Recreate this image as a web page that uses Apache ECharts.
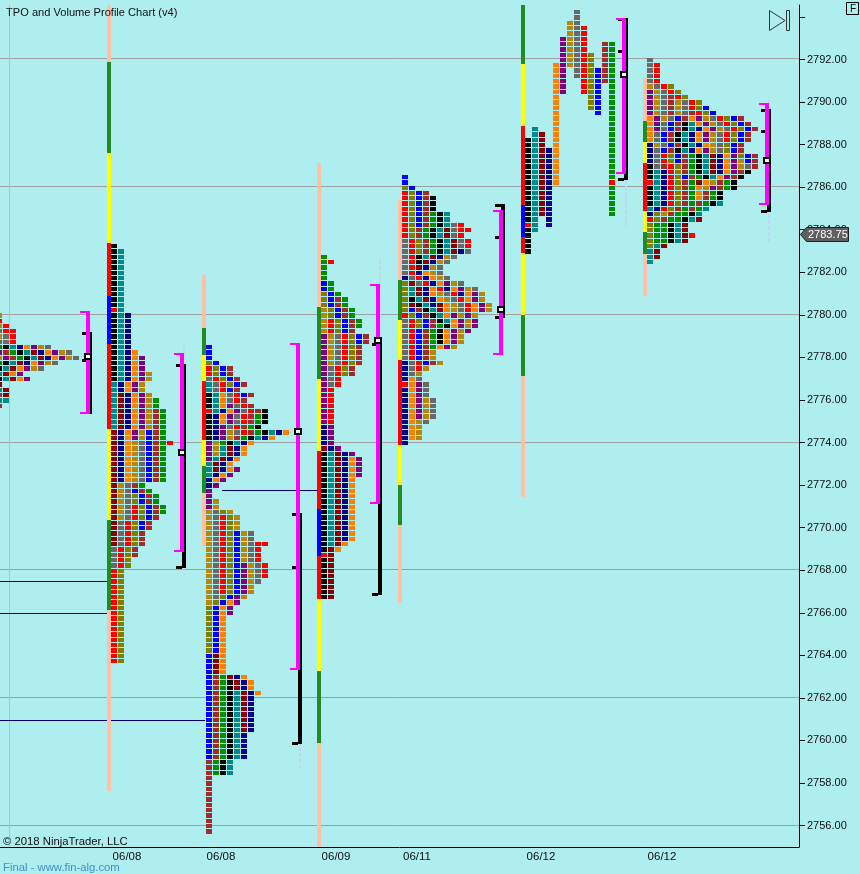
<!DOCTYPE html>
<html><head><meta charset="utf-8">
<style>html,body{margin:0;padding:0;background:#AFEEEE}#c{width:860px;height:874px}</style>
<script src="https://cdn.jsdelivr.net/npm/echarts@6/dist/echarts.min.js"></script>
</head><body><div id="c"></div>
<script>
// ---- axis values
const yTicks=[2756,2758,2760,2762,2764,2766,2768,2770,2772,2774,2776,2778,2780,2782,2784,2786,2788,2790,2792,2794];
const yLabels=[2756,2758,2760,2762,2764,2766,2768,2770,2772,2774,2776,2778,2780,2782,2784,2786,2788,2790,2792];
const gridLevels=[2792,2786,2780,2774,2768,2762,2756];
const dateLabels=['06/08','06/08','06/09','06/11','06/12','06/12'];
const dateSlots=[127,221,336,417,541,662];
const lastPrice=2783.75;

// ---- TPO rows: [number of rows, one letter per period], read top to bottom
const profile1Top=2780;
const profile1Rows=[[1,'d'],[1,'r'],[1,'dr'],[1,'yrr'],[1,'dyr'],[1,'yyr'],[1,'gktnopdy'],[1,'pwgktmnopdy'],[1,'dpwgktmnopdy'],[1,'gktmnopdy'],[1,'ktmopdy'],[1,'tmop'],[1,'ktmop'],[1,'m'],[1,'tm'],[1,'wm'],[1,'tt'],[1,'w']];
const profile2Top=2783.25;
const profile2Rows=[[1,'k'],[11,'kt'],[1,'rt'],[7,'ktn'],[1,'ktno'],[3,'ktnop'],[2,'ktnopd'],[2,'tnopd'],[1,'tmnopd'],[2,'tmnopdg'],[4,'tmnopdwg'],[2,'mnopdbwg'],[1,'mnodybwgr'],[7,'mnodybwg'],[1,'mdywg'],[1,'mdybwg'],[2,'mdylbwg'],[2,'mdyrlbwg'],[1,'mdyrlbw'],[2,'myrlbw'],[3,'myrlw'],[2,'yrlw'],[2,'yrl'],[18,'rl']];
const profile3Top=2778.5;
const profile3Rows=[[3,'b'],[1,'lb'],[2,'rlbw'],[1,'yrlbw'],[1,'tyrlbw'],[1,'tyrbw'],[1,'ktoyrbw'],[1,'ktoyrw'],[1,'ktopyrw'],[1,'rtnopyrwk'],[2,'knopyrwgk'],[1,'knpyrwgk'],[1,'knpdyrwgktno'],[1,'knpdwgktno'],[1,'pdgktno'],[2,'pdtmno'],[1,'ptmno'],[1,'tmno'],[1,'tmnop'],[1,'tnop'],[1,'nop'],[1,'np'],[2,'p'],[2,'pd'],[1,'dyld'],[3,'dyrld'],[2,'dyrlbdy'],[1,'dyrlbdyrr'],[3,'dyrlbdyr'],[3,'dyrlbpdyr'],[1,'dyrlbpdy'],[2,'dyrlbpd'],[1,'dylbpd'],[1,'dlbop'],[2,'lbop'],[7,'lbo'],[4,'bmo'],[1,'bwgmno'],[2,'bwgkmno'],[1,'bwgktmno'],[7,'bwgktmn'],[5,'bwgktn'],[3,'wgkt'],[11,'w']];
const profile4Top=2782.75;
const profile4Rows=[[1,'g'],[1,'gr'],[3,'g'],[2,'bg'],[1,'lbg'],[2,'lbwg'],[2,'dlbwg'],[2,'drlbwg'],[1,'drlbw'],[2,'pdyrlbw'],[4,'pdyrlw'],[2,'pyrlw'],[2,'pyr'],[7,'pr'],[4,'np'],[1,'mnp'],[1,'ktmnp'],[4,'ktmnop'],[12,'ktmno'],[1,'ktmo'],[1,'kmo'],[1,'rm'],[8,'km']];
const profile5Top=2786.5;
const profile5Rows=[[2,'b'],[1,'lb'],[1,'rlbw'],[3,'rlbwk'],[2,'rlbwgkt'],[1,'rlbwgktyr'],[1,'rlwgktmyrr'],[1,'rlwgktmyr'],[2,'yrlwgktmyr'],[1,'yrlwgktmny'],[1,'yrktmndy'],[1,'yrkmndy'],[1,'yrmndy'],[1,'yrnody'],[1,'nyrnody'],[1,'lmyrnopdy'],[1,'ltmnornopdy'],[1,'ltmnodyrnopd'],[1,'lktmnodyropd'],[1,'lmktnmodyropd'],[1,'lbwktmodyropd'],[1,'rlbwktopdpd'],[1,'yrlbwktopdp'],[1,'yrlbwgkopdp'],[1,'yrbwgkopdp'],[2,'yrbwgkopd'],[1,'yrbwgopd'],[2,'yrbwd'],[1,'nyrbwd'],[1,'nyrd'],[1,'nyd'],[1,'noy'],[1,'ropy'],[2,'nopy'],[4,'nopdy'],[1,'nody'],[3,'nod'],[1,'n']];
// profile 6 keeps every period in its own column: [column, letter, top price, rows]
const profile6Runs=[[7,'y',2794.25,13],[6,'d',2793.75,9],[8,'r',2793.5,13],[5,'p',2793,11],[4,'o',2791.75,23],[9,'l',2792.25,11],[10,'b',2791.5,9],[11,'w',2792.75,8],[12,'g',2792.75,33],[12,'r',2786.25,1],[1,'t',2788.75,20],[2,'m',2788.5,16],[3,'n',2787.75,15],[0,'k',2788.25,22],[0,'r',2784.25,1]];
const profile7Top=2792;
const profile7Rows=[[1,'y'],[4,'yr'],[1,'dyrl'],[1,'pdyrl'],[1,'pdywrl'],[1,'pdywdyrl'],[1,'pdywdyrlb'],[1,'pdywdywrlb'],[1,'opdybwopdyrlbw'],[1,'opybwktopdyrlbw'],[1,'opybwktnopdyrlbw'],[2,'oybwktnopdyrlbw'],[1,'ndybwktnodylbw'],[1,'nybwktnopdylbw'],[1,'nyrlbwgktmnoplbw'],[1,'nyrlbwgktmnopdbw'],[1,'kywrlwgktmnopdyw'],[1,'ktnrlwgktmnopwk'],[1,'ktnrlbwgktopwk'],[1,'rtnrlwgmodwgk'],[1,'ktnrlwgodpwgk'],[2,'ktnrlwgowgk'],[1,'ktnrlwgwgkt'],[1,'tnrlwgwgt'],[1,'nldwggkt'],[1,'rlwggktm'],[2,'lggktm'],[1,'lggktmr'],[1,'lggktm'],[1,'ltm'],[2,'tm'],[1,'t']];
const profileSlots=[-4,111,206,321,402,525,647];

// ---- period strips: [letter, rows]
const strip2Top=2794.5;
const strip2=[['a',11],['f',17],['Y',17],['r',10],['b',9],['r',16],['Y',17],['f',17],['a',34]];
const strip3Top=2781.75;
const strip3=[['a',10],['f',5],['Y',5],['r',11],['Y',5],['f',5],['a',10]];
const strip4Top=2787;
const strip4=[['a',27],['f',13.5],['Y',13.5],['r',11],['b',8.75],['r',8.25],['Y',13.5],['f',13.5],['a',20]];
const strip5Top=2785.25;
const strip5=[['a',15],['f',7.5],['Y',7.5],['r',16],['Y',7.5],['f',7.5],['a',14.7]];
const strip6Top=2794.5;
const strip6=[['f',11.35],['Y',11.65],['r',14.85],['b',6],['r',3],['Y',11.65],['f',11.5],['a',22.75]];
const strip7Top=2791;
const strip7=[['a',8],['f',4],['Y',4],['r',9],['Y',4],['f',4],['a',8]];

// ---- session brackets
const bracketSlots=[86,180,296,376,499,622,765];
const valueHigh=[2780.18,2778.21,2778.68,2781.45,2784.93,2793.95,2789.96];
const valueLow=[2775.34,2768.86,2763.33,2771.11,2778.11,2786.62,2785.16];
const sessionHigh=[2779.19,2777.69,2770.69,2778.63,2785.21,2793.95,2789.67];
const sessionLow=[2775.34,2768.10,2759.83,2766.84,2779.85,2786.34,2784.83];
const sessionMarks=[[2779.15,2777.88],[2777.64,2768.15],[2770.64,2768.15,2759.88],[2778.63,2766.88],[2785.16,2783.66,2779.9],[2793.9,2792.4,2786.38],[2789.63,2788.64,2784.88]];
const pocPrice=[2778,2773.5,2774.5,2778.75,2780.25,2791.25,2787.25];
const wickHigh=[2779.62,2778.58,2770.69,2782.58,2785.21,2793.95,2790.1];
const wickLow=[2775.67,2767.78,2758.66,2766.84,2779.85,2784.13,2783.38];

// ---- naked levels: [price, from, to]
const nakedLevels=[[2767.5,0,107],[2766,0,107],[2760.95,0,205],[2771.75,222,317]];

const palette={k:'#000000',t:'#008B8B',m:'#8B0000',n:'#00008B',o:'#FF7F00',p:'#800080',d:'#B8860B',y:'#696969',r:'#FF0000',l:'#808000',b:'#0000FF',w:'#A52A2A',g:'#009000',a:'#FFC0A8',f:'#228B22',Y:'#FFFF00'};
const FONT='"Liberation Sans",Arial,sans-serif';
const PERIOD=7,CELL=6,STRIP=4,STEP=0.25;

const cells=[];
function addRows(slot,top,rows){let p=top;rows.forEach(([n,s])=>{for(let i=0;i<n;i++){[...s].forEach((c,col)=>cells.push({x:slot+col*PERIOD,p,c}));p-=STEP;}});}
addRows(profileSlots[0],profile1Top,profile1Rows);
addRows(profileSlots[1],profile2Top,profile2Rows);
addRows(profileSlots[2],profile3Top,profile3Rows);
addRows(profileSlots[3],profile4Top,profile4Rows);
addRows(profileSlots[4],profile5Top,profile5Rows);
profile6Runs.forEach(([col,c,top,n])=>{for(let i=0;i<n;i++)cells.push({x:profileSlots[5]+col*PERIOD,p:top-i*STEP,c});});
addRows(profileSlots[6],profile7Top,profile7Rows);

const strips=[];
function addStrip(slot,top,runs){let p=top+STEP/2;runs.forEach(([c,n])=>{const q=p-n*STEP;strips.push({x:slot-STRIP,hi:p,lo:q,c});p=q;});}
addStrip(profileSlots[1],strip2Top,strip2);
addStrip(profileSlots[2],strip3Top,strip3);
addStrip(profileSlots[3],strip4Top,strip4);
addStrip(profileSlots[4],strip5Top,strip5);
addStrip(profileSlots[5],strip6Top,strip6);
addStrip(profileSlots[6],strip7Top,strip7);

const R=Math.round;
function rect(x,y,w,h,fill){return {type:'rect',shape:{x,y,width:w,height:h},style:{fill}};}
function idx(a){return a.map((_,i)=>[i,i]);}

const chart=echarts.init(document.getElementById('c'),null,{renderer:'canvas'});
chart.setOption({
 animation:false,backgroundColor:'#AFEEEE',
 grid:{left:0,top:5,width:799,height:842,containLabel:false},
 xAxis:{type:'value',min:0,max:799,splitLine:{show:false},axisTick:{show:false},
  axisLine:{show:true,onZero:false,lineStyle:{color:'#000',width:1}},
  axisLabel:{customValues:dateSlots,margin:4,fontFamily:FONT,fontSize:11.5,color:'#101010',
   formatter:v=>dateLabels[dateSlots.indexOf(v)]||''}},
 yAxis:{type:'value',position:'right',min:2754.993,max:2794.561,splitLine:{show:false},
  axisLine:{show:true,onZero:false,lineStyle:{color:'#000',width:1}},
  axisTick:{show:true,customValues:yTicks,length:6,lineStyle:{color:'#000'}},
  axisLabel:{customValues:yLabels,margin:8,fontFamily:FONT,fontSize:11,color:'#101010',formatter:v=>v.toFixed(2)}},
 graphic:[
  {type:'text',left:6,top:7,z:50,style:{text:'TPO and Volume Profile Chart (v4)',font:'11.1px '+FONT,fill:'#101010'}},
  {type:'text',left:3,top:836,z:50,style:{text:'© 2018 NinjaTrader, LLC',font:'11.3px '+FONT,fill:'#101010'}},
  {type:'text',left:3,top:862,z:50,style:{text:'Final - www.fin-alg.com',font:'11.3px '+FONT,fill:'#3F8FD0'}},
  {type:'polyline',z:50,shape:{points:[[769.5,10.5],[785,20.5],[769.5,30.5],[769.5,10.5]]},style:{stroke:'#333',fill:'none',lineWidth:1}},
  {type:'rect',z:50,shape:{x:786.5,y:10.5,width:3,height:20},style:{stroke:'#333',fill:'none',lineWidth:1}},
  {type:'rect',z:50,shape:{x:846.5,y:2.5,width:12,height:12},style:{stroke:'#000',fill:'none',lineWidth:1}},
  {type:'text',z:50,left:850,top:4,style:{text:'F',font:'10px '+FONT,fill:'#000'}}
 ],
 series:[
  {type:'custom',name:'grid',z:1,clip:true,silent:true,data:idx(gridLevels),
   renderItem:(pm,api)=>{const y=R(api.coord([0,gridLevels[pm.dataIndex]])[1])-.5;
    return {type:'line',shape:{x1:0,y1:y,x2:799,y2:y},style:{stroke:'#A0A0A0',lineWidth:1}};}},
  {type:'custom',name:'vline',z:1,clip:true,silent:true,data:[[9,2755]],
   renderItem:(pm,api)=>({type:'line',shape:{x1:9.5,y1:0,x2:9.5,y2:847},style:{stroke:'#BDBDBD',lineWidth:1}})},
  {type:'custom',name:'naked',z:2,clip:true,silent:true,data:idx(nakedLevels),
   renderItem:(pm,api)=>{const [p,a,b]=nakedLevels[pm.dataIndex];const y=R(api.coord([0,p])[1])+.5;
    return {type:'line',shape:{x1:api.coord([a,p])[0],y1:y,x2:api.coord([b,p])[0],y2:y},style:{stroke:'#000070',lineWidth:1}};}},
  {type:'custom',name:'wicks',z:3,clip:true,silent:true,data:idx(bracketSlots),
   renderItem:(pm,api)=>{const i=pm.dataIndex,x=api.coord([bracketSlots[i]+4,0])[0];
    return {type:'line',shape:{x1:x,y1:api.coord([0,wickHigh[i]])[1],x2:x,y2:api.coord([0,wickLow[i]])[1]},style:{stroke:'#C2D6F4',lineWidth:2,lineDash:[4,2]}};}},
  {type:'custom',name:'strips',z:4,clip:true,silent:true,data:idx(strips),
   renderItem:(pm,api)=>{const s=strips[pm.dataIndex],a=api.coord([s.x,s.hi]),b=api.coord([s.x+STRIP,s.lo]);
    const y=R(a[1]);return rect(R(a[0]),y,STRIP,R(b[1])-y,palette[s.c]);}},
  {type:'custom',name:'tpo',z:5,clip:true,silent:true,data:idx(cells),
   renderItem:(pm,api)=>{const c=cells[pm.dataIndex],a=api.coord([c.x,c.p+STEP/2]),b=api.coord([c.x,c.p-STEP/2]);
    const y=R(a[1])+1;return rect(R(a[0]),y,CELL,R(b[1])-y,palette[c.c]);}},
  {type:'custom',name:'brackets',z:6,clip:false,silent:true,data:idx(bracketSlots),
   renderItem:(pm,api)=>{const i=pm.dataIndex,x=R(api.coord([bracketSlots[i],0])[0]),Y=p=>R(api.coord([0,p])[1]);
    const ch=[];
    ch.push(rect(x+2,Y(sessionHigh[i]),4,Y(sessionLow[i])-Y(sessionHigh[i]),'#000'));
    sessionMarks[i].forEach(p=>ch.push(rect(x-4,Y(p)-1,6,3,'#000')));
    ch.push(rect(x,Y(valueHigh[i]),4,Y(valueLow[i])-Y(valueHigh[i]),'#FF00FF'));
    ch.push(rect(x-6,Y(valueHigh[i]),6,2,'#FF00FF'));
    ch.push(rect(x-6,Y(valueLow[i])-2,6,2,'#FF00FF'));
    const py=Y(pocPrice[i]);
    ch.push(rect(x-2,py-4,8,7,'#000'));
    ch.push(rect(x,py-2,4,3,'#fff'));
    return {type:'group',children:ch};}},
  {type:'custom',name:'last',z:7,clip:false,silent:true,data:[[799,lastPrice]],
   renderItem:(pm,api)=>{const y=R(api.coord([0,lastPrice])[1])-.5;
    return {type:'group',children:[
     {type:'polygon',shape:{points:[[800.5,y],[806.5,y-7],[848.5,y-7],[848.5,y+7],[806.5,y+7]]},style:{fill:'#5F5F5F',stroke:'#202020',lineWidth:1}},
     {type:'text',style:{x:808,y:y+.5,text:lastPrice.toFixed(2),font:'11px '+FONT,fill:'#fff',verticalAlign:'middle'}}]};}}
 ]
});
</script></body></html>
